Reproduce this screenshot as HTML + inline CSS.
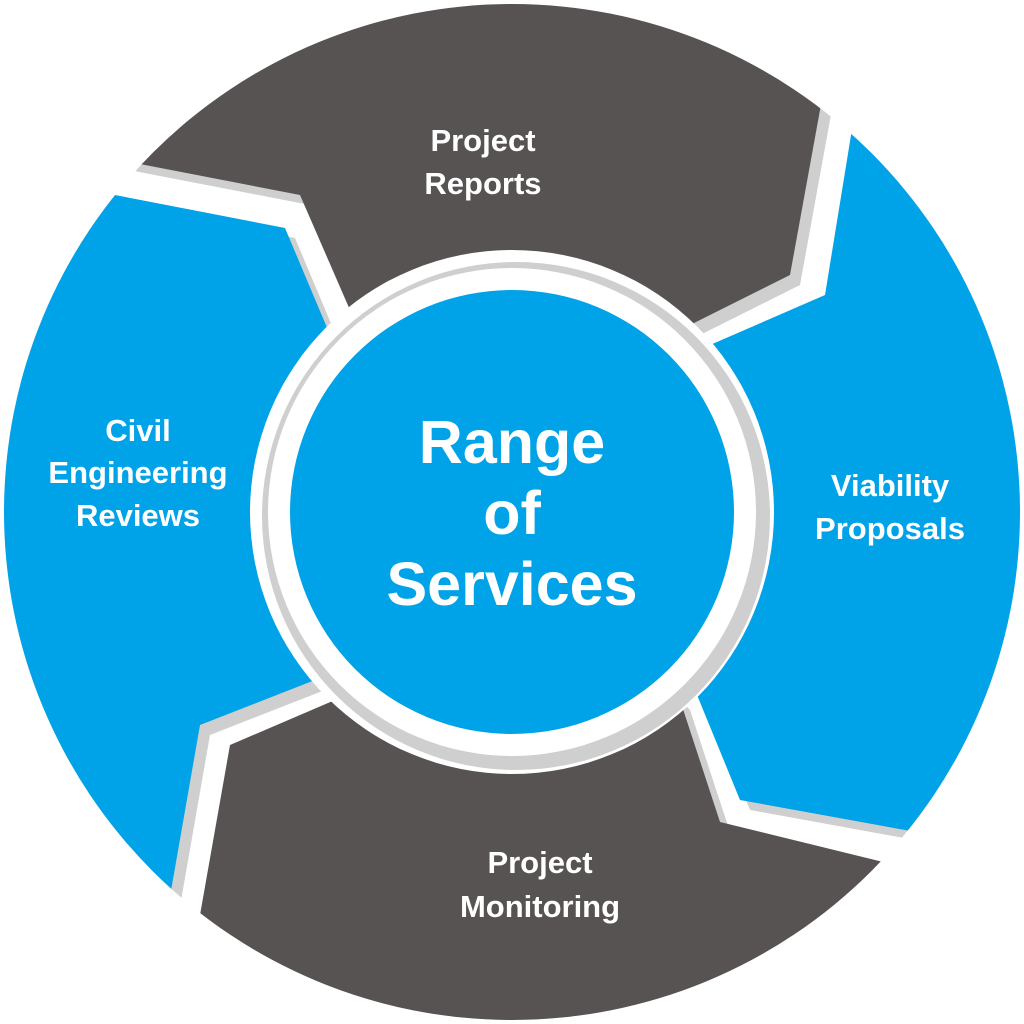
<!DOCTYPE html>
<html><head><meta charset="utf-8"><style>
html,body{margin:0;padding:0;background:#fff;width:1024px;height:1024px;overflow:hidden;}
svg{display:block}
text{font-family:"Liberation Sans",Arial,sans-serif;font-weight:bold;fill:#fff;text-anchor:middle}
</style></head><body>
<svg width="1024" height="1024" viewBox="0 0 1024 1024">
<defs>
<clipPath id="c"><circle cx="512" cy="512" r="508"/></clipPath>
</defs>
<g clip-path="url(#c)">
<g fill="#cfcfcf" transform="translate(10,10)">
<polygon points="0,137 0,0 840,0 820,110 790,275 690,325 512,512 350,310 300,195"/>
<polygon points="873,0 1004,0 1004,848 905,830 740,800 695,690 512,512 710,345 825,295"/>
<polygon points="512,512 680,700 720,822 875,860 1004,892 1004,1004 184,1004 200,915 230,745 335,700"/>
<polygon points="512,512 315,680 200,725 172,885 151,1004 0,1004 0,173 115,195 285,228 328,330"/>
</g>
<polygon fill="#575352" points="0,137 0,0 840,0 820,110 790,275 690,325 512,512 350,310 300,195"/>
<polygon fill="#00a2e8" points="873,0 1024,0 1024,852 905,830 740,800 695,690 512,512 710,345 825,295"/>
<polygon fill="#575352" points="512,512 680,700 720,822 875,860 1024,897 1024,1024 180,1024 200,915 230,745 335,700"/>
<polygon fill="#00a2e8" points="512,512 315,680 200,725 172,885 148,1024 0,1024 0,173 115,195 285,228 328,330"/>
</g>
<circle cx="512" cy="512" r="262" fill="#fff"/>
<circle cx="516" cy="516" r="254" fill="#cfcfcf"/>
<circle cx="512" cy="512" r="244" fill="#fff"/>
<circle cx="512" cy="512" r="222" fill="#00a2e8"/>
<text x="512" y="463" font-size="61">Range</text>
<text x="512" y="534" font-size="61">of</text>
<text x="512" y="605" font-size="61">Services</text>
<text x="483" y="151" font-size="31">Project</text>
<text x="483" y="194" font-size="31">Reports</text>
<text x="890" y="496" font-size="31">Viability</text>
<text x="890" y="539" font-size="31">Proposals</text>
<text x="138" y="441" font-size="31">Civil</text>
<text x="138" y="483" font-size="31">Engineering</text>
<text x="138" y="526" font-size="31">Reviews</text>
<text x="540" y="873" font-size="31">Project</text>
<text x="540" y="917" font-size="31">Monitoring</text>
</svg>
</body></html>
